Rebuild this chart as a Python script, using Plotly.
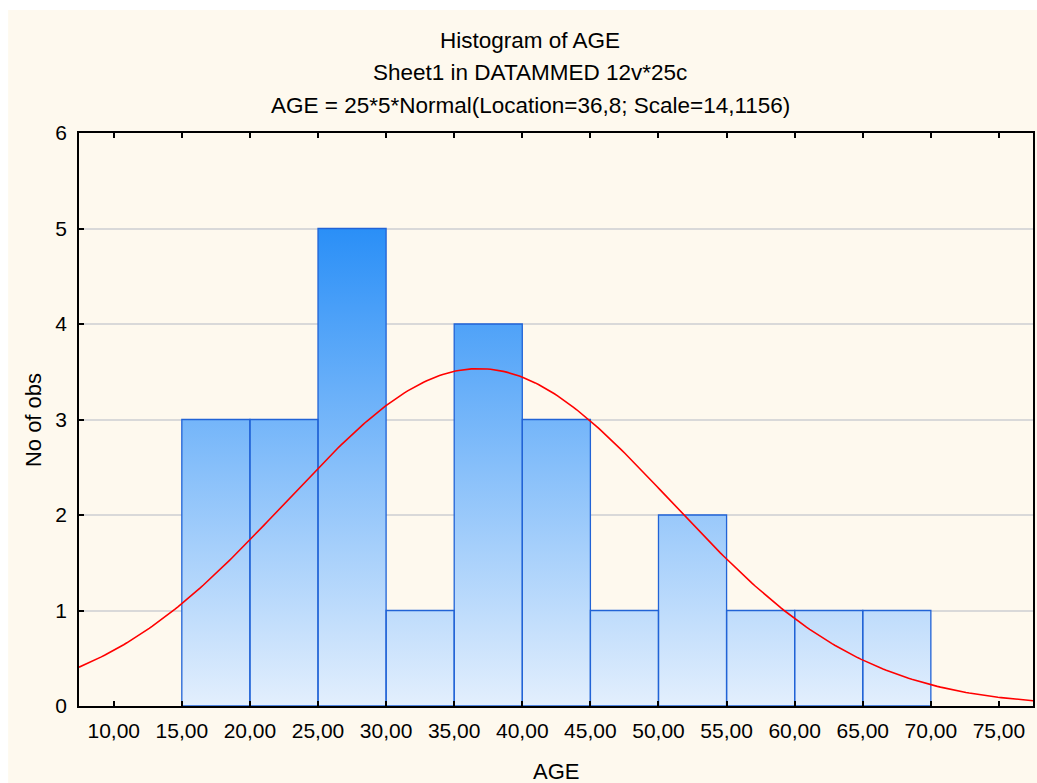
import math
import plotly.graph_objects as go

# ---- data ----
bin_edges = [15, 20, 25, 30, 35, 40, 45, 50, 55, 60, 65, 70]
counts = [3, 3, 5, 1, 4, 3, 1, 2, 1, 1, 1]
n_obs = 25
bin_width = 5
fit_location = 36.8
fit_scale = 14.1156
x_tick_vals = [10, 15, 20, 25, 30, 35, 40, 45, 50, 55, 60, 65, 70, 75]
x_tick_text = ["10,00", "15,00", "20,00", "25,00", "30,00", "35,00", "40,00",
               "45,00", "50,00", "55,00", "60,00", "65,00", "70,00", "75,00"]
y_tick_vals = [0, 1, 2, 3, 4, 5, 6]
title_lines = ["Histogram of AGE",
               "Sheet1 in DATAMMED 12v*25c",
               "AGE = 25*5*Normal(Location=36,8; Scale=14,1156)"]
x_range = [7.45, 77.5]
y_range = [0, 6]

FONT = "Liberation Sans, Arial, sans-serif"

# bars as closed polygons (one segment per bin) so they can carry a vertical gradient
bx, by = [], []
for i, c in enumerate(counts):
    x0, x1 = bin_edges[i], bin_edges[i + 1]
    bx += [x0, x0, x1, x1, x0, None]
    by += [0, c, c, 0, 0, None]

# fitted normal curve as stated in the chart subtitle
n_pts = 300
cx = [x_range[0] + (x_range[1] - x_range[0]) * k / (n_pts - 1) for k in range(n_pts)]
cy = [n_obs * bin_width * math.exp(-0.5 * ((v - fit_location) / fit_scale) ** 2)
      / (fit_scale * math.sqrt(2 * math.pi)) for v in cx]

fig = go.Figure()
fig.add_trace(go.Scatter(
    x=bx, y=by, mode="lines", fill="toself",
    fillgradient=dict(type="vertical",
                      colorscale=[[0, "#e3effd"], [1, "#2a8ff7"]],
                      start=0, stop=max(counts)),
    line=dict(color="#2163d6", width=1.3),
    hoverinfo="skip", showlegend=False,
))
fig.add_trace(go.Scatter(
    x=cx, y=cy, mode="lines",
    line=dict(color="#ff0000", width=1.6),
    hoverinfo="skip", showlegend=False,
))

# figure fills the whole page (body margin removed in post_script)
W, H = 1037, 783
L, R, T, B = 79, 1035, 133, 706
pw, ph = R - L, B - T


def px_x(p):
    return (p - L) / pw


def px_y(p):
    return (B - p) / ph


annotations = []
for k, line in enumerate(title_lines):
    annotations.append(dict(
        text=line, x=px_x(531), y=px_y(41 + 32 * k), xref="paper", yref="paper",
        xanchor="center", yanchor="middle", showarrow=False,
        font=dict(family=FONT, size=22.5, color="#000000")))
annotations.append(dict(
    text="AGE", x=px_x(557), y=px_y(771), xref="paper", yref="paper",
    xanchor="center", yanchor="middle", showarrow=False,
    font=dict(family=FONT, size=22, color="#000000")))
annotations.append(dict(
    text="No of obs", x=px_x(33), y=px_y(420), xref="paper", yref="paper",
    xanchor="center", yanchor="middle", showarrow=False, textangle=-90,
    font=dict(family=FONT, size=22, color="#000000")))

fig.update_layout(
    width=W, height=H,
    margin=dict(l=L, r=W - R, t=T, b=H - B, pad=0),
    paper_bgcolor="#ffffff",
    plot_bgcolor="#ffffff",
    font=dict(family=FONT, size=21, color="#000000"),
    annotations=annotations,
    shapes=[dict(type="rect", xref="paper", yref="paper",
                 x0=px_x(8), x1=px_x(1045), y0=px_y(795), y1=px_y(10),
                 fillcolor="#fef9ee", line=dict(width=0), layer="below")],
    xaxis=dict(
        range=x_range, tickvals=x_tick_vals, ticktext=x_tick_text,
        ticks="inside", ticklen=5, tickwidth=1.5, tickcolor="#000000",
        showline=True, linecolor="#000000", linewidth=1.5, mirror="ticks",
        showgrid=False, zeroline=False, ticklabelstandoff=5,
        tickfont=dict(family=FONT, size=21),
    ),
    yaxis=dict(
        range=y_range, tickvals=y_tick_vals,
        ticks="inside", ticklen=5, tickwidth=1.5, tickcolor="#000000",
        showline=True, linecolor="#000000", linewidth=1.5, mirror=True,
        showgrid=True, gridcolor="#d9d9d9", gridwidth=1.5, zeroline=False,
        ticklabelstandoff=6,
        tickfont=dict(family=FONT, size=21),
    ),
)

fig.write_html("out.html",
               config={"displayModeBar": False},
               post_script="document.body.style.margin='0';"
                           "document.documentElement.style.overflow='hidden';"
                           "document.body.style.overflow='hidden';")
